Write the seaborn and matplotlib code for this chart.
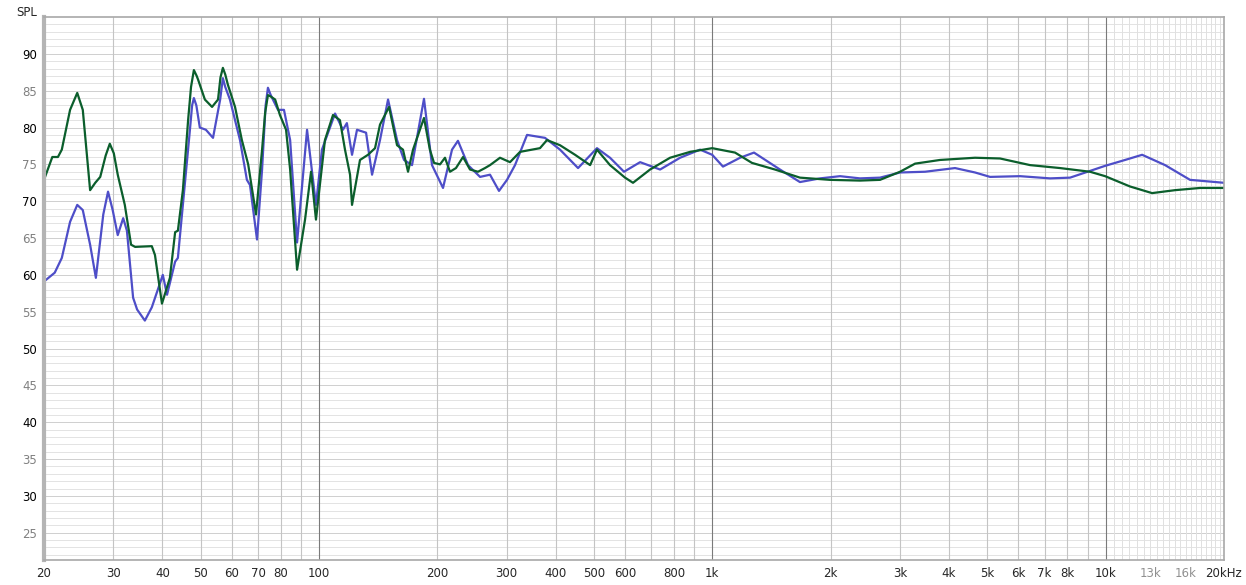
import matplotlib.pyplot as plt
import numpy as np
import pandas as pd
import seaborn as sns

# frequency response (Hz, dB SPL)
green_freq = [20, 21.0, 21.7, 22.2, 23.3, 24.3, 25.1, 26.2, 27.0, 27.8, 28.7, 29.4, 30.1, 30.8, 32.1, 33.3, 34.1,
              37.6, 38.3, 39.9, 41.8, 43.1, 43.8, 45.1, 46.5, 47.3, 48.1, 48.9, 49.3, 51.3, 53.5, 55.4, 56.2,
              57.0, 57.8, 58.7, 61.2, 63.7, 66.1, 69.2, 71.7, 73.0, 74.2, 75.5, 77.4, 79.6, 82.5, 84.5, 88.0,
              92.2, 95.5, 98.3, 103.6, 108.6, 113.1, 116.5, 120.0, 121.4, 127.2, 133.3, 138.9, 143.0, 150.8,
              158.0, 163.6, 168.5, 173.5, 185.0, 191.5, 196.2, 203.2, 209.2, 215.4, 223.1, 232.5,
              242.2, 253.8, 264.4, 272.3, 288.7, 306.1, 324.6, 364.8, 380.1, 410.2, 448.0, 489.3,
              509.3, 549.7, 600.2, 628.9, 694.9, 781.3, 878.6, 1000, 1143, 1262, 1444, 1671, 1993,
              2375, 2671, 3003, 3279, 3795, 4658, 5393, 6429, 7661, 9130, 9974, 11540, 13130,
              15020, 17400, 20000]
green_spl = [72.9, 76.0, 76.0, 77.0, 82.4, 84.7, 82.4, 71.5, 72.5, 73.3, 76.2, 77.8, 76.5, 73.6, 69.5, 64.1, 63.8,
             63.9, 62.7, 56.1, 59.6, 65.8, 66.0, 71.5, 81.0, 85.5, 87.8, 87.0, 86.5, 83.8, 82.8, 83.8, 86.8,
             88.1, 87.2, 85.8, 82.8, 78.3, 75.0, 68.2, 77.0, 82.0, 84.4, 84.2, 83.8, 81.7, 79.7, 74.3, 60.7,
             67.5, 74.0, 67.5, 78.3, 81.7, 81.0, 77.0, 73.6, 69.5, 75.6, 76.3, 77.2, 80.4, 82.8,
             77.6, 77.0, 74.0, 77.0, 81.3, 77.0, 75.2, 75.0, 75.9, 74.0, 74.5, 76.0,
             74.3, 74.0, 74.5, 74.9, 75.9, 75.3, 76.7, 77.2, 78.3, 77.6, 76.3, 74.9,
             77.0, 74.9, 73.2, 72.5, 74.3, 75.9, 76.7, 77.2, 76.6, 75.2, 74.3, 73.2, 72.9,
             72.8, 72.9, 74.0, 75.1, 75.6, 75.9, 75.8, 74.9, 74.5, 74.0, 73.4, 72.0, 71.1,
             71.5, 71.8, 71.8]

blue_freq = [20, 21.3, 22.2, 23.3, 24.3, 25.1, 26.2, 27.1, 28.3, 29.1, 29.9, 30.8, 31.8, 32.5, 33.7,
             34.5, 36.1, 37.6, 40.1, 41.1, 43.1, 43.8, 47.0, 47.6, 48.1, 48.8, 49.8, 51.6, 53.8, 56.1,
             57.0, 57.8, 59.4, 63.0, 65.6, 66.8, 69.6, 71.7, 73.2, 74.2, 75.3, 76.4, 78.7, 81.5, 84.5,
             88.0, 93.3, 98.3, 101.8, 109.9, 115.1, 117.8, 121.4, 125.0, 131.8, 136.5, 143.0, 149.9,
             158.0, 164.6, 172.5, 185.0, 193.9, 206.8, 218.0, 225.7, 239.4, 256.9, 272.3, 287.0,
             300.8, 315.2, 338.2, 375.7, 410.2, 455.9, 509.3, 549.7, 596.7, 655.6, 737.0, 828.5,
             931.4, 1000, 1065, 1177, 1277, 1487, 1671, 1880, 2113, 2375, 2671, 3003, 3476, 4143,
             4658, 5087, 6062, 7228, 8125, 9974, 11210, 12390, 14170, 16400, 20000]
blue_spl = [59.1, 60.3, 62.3, 67.2, 69.5, 68.8, 64.1, 59.6, 68.2, 71.3, 68.8, 65.4, 67.7, 66.0, 56.9,
            55.3, 53.8, 55.6, 60.0, 57.3, 61.8, 62.3, 79.7, 83.0, 84.0, 83.0, 80.0, 79.7, 78.6, 83.8,
            86.7, 85.5, 83.8, 78.3, 72.9, 72.2, 64.8, 74.3, 83.0, 85.4, 84.5, 83.8, 82.4, 82.4, 78.3,
            64.4, 79.7, 69.5, 77.0, 81.9, 79.7, 80.6, 76.3, 79.7, 79.3, 73.6, 78.3, 83.8,
            78.3, 75.6, 74.9, 83.9, 74.9, 71.8, 77.0, 78.2, 74.9, 73.3, 73.6, 71.4,
            72.9, 74.9, 79.0, 78.6, 77.0, 74.5, 77.2, 75.9, 74.0, 75.3, 74.3, 75.9,
            77.0, 76.3, 74.7, 75.9, 76.6, 74.3, 72.6, 73.1, 73.4, 73.1, 73.2, 73.9, 74.0, 74.5,
            73.9, 73.3, 73.4, 73.1, 73.2, 74.8, 75.6, 76.3, 74.9, 72.9, 72.5]

x_ticks = [20, 30, 40, 50, 60, 70, 80, 100, 200, 300, 400, 500, 600, 800, 1000, 2000, 3000, 4000,
           5000, 6000, 7000, 8000, 10000, 13000, 16000, 20000]
x_labels = ["20", "30", "40", "50", "60", "70", "80", "100", "200", "300", "400", "500", "600",
            "800", "1k", "2k", "3k", "4k", "5k", "6k", "7k", "8k", "10k", "13k", "16k", "20kHz"]
y_ticks = [25, 30, 35, 40, 45, 50, 55, 60, 65, 70, 75, 80, 85, 90]

df = pd.concat([
    pd.DataFrame({"freq": green_freq, "spl": green_spl, "trace": "green"}),
    pd.DataFrame({"freq": blue_freq, "spl": blue_spl, "trace": "blue"}),
])

sns.set_style("white")
plt.rcParams["font.family"] = ["DejaVu Sans"]

fig = plt.figure(figsize=(12.46, 5.85), dpi=100)
ax = fig.add_axes([0.0353, 0.0427, 0.9470, 0.9282])

# grid: 1 dB horizontals, log verticals, dark lines at decades
for v in range(22, 95):
    ax.axhline(v, color="#e3e3e3" if v % 5 else "#cfcfcf", lw=0.7, zorder=0)
vlines = list(range(20, 100, 10)) + list(range(200, 1000, 100)) + list(range(2000, 10000, 1000))
for v in vlines:
    ax.axvline(v, color="#c4c4c4", lw=0.8, zorder=0)
for v in range(10500, 20000, 500):
    ax.axvline(v, color="#e0e0e0", lw=0.7, zorder=0)
for v in [100, 1000, 10000]:
    ax.axvline(v, color="#7a7a7a", lw=0.8, zorder=0)

sns.lineplot(data=df, x="freq", y="spl", hue="trace", sort=False, estimator=None,
             palette={"green": "#0b5e2c", "blue": "#4e4ec8"}, hue_order=["blue", "green"],
             lw=1.6, legend=False, ax=ax)

ax.set_xscale("log")
ax.set_xlim(20, 20000)
ax.set_ylim(21.3, 95)
ax.set_xticks(x_ticks)
ax.set_xticklabels(x_labels)
ax.xaxis.set_minor_locator(plt.NullLocator())
ax.set_yticks(y_ticks)
ax.set_xlabel("")
ax.set_ylabel("")
ax.tick_params(length=0, labelsize=8.5, pad=5)
for lab in ax.get_xticklabels():
    if lab.get_text() in ("13k", "16k"):
        lab.set_color("#909090")
for lab, v in zip(ax.get_yticklabels(), y_ticks):
    lab.set_color("#000000" if v % 10 == 0 else "#808080")

for s in ["top", "right", "bottom"]:
    ax.spines[s].set_color("#a8a8a8")
    ax.spines[s].set_linewidth(1.2)
ax.spines["left"].set_color("#b4b4b4")
ax.spines["left"].set_linewidth(3)

fig.text(0.013, 0.978, "SPL", fontsize=8.5, ha="left", va="center")

fig.savefig("out.png", dpi=100)
